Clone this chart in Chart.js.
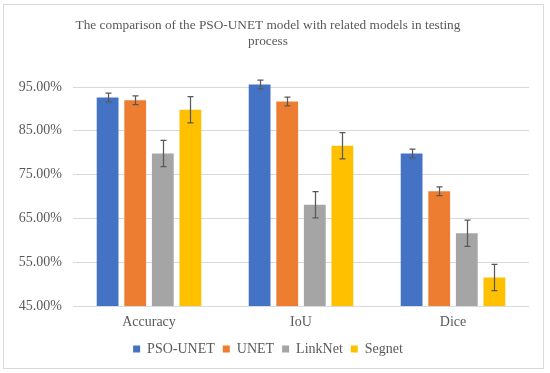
<!DOCTYPE html>
<html>
<head>
<meta charset="utf-8">
<script src="https://cdn.jsdelivr.net/npm/chart.js@4/dist/chart.umd.min.js"></script>
<style>
html,body{margin:0;padding:0;background:#fff;}
#wrap{width:550px;height:373px;position:relative;}
</style>
</head>
<body>
<div id="wrap"><canvas id="c" width="550" height="373"></canvas></div>
<script>
const categories = ["Accuracy", "IoU", "Dice"];
const seriesNames = ["PSO-UNET", "UNET", "LinkNet", "Segnet"];
const psoUnet = [92.6, 95.6, 79.8];
const unet = [92.0, 91.7, 71.2];
const linkNet = [79.8, 68.1, 61.6];
const segnet = [89.8, 81.6, 51.5];
const psoUnetErr = [1.0, 1.0, 1.0];
const unetErr = [1.0, 1.0, 1.0];
const linkNetErr = [3.0, 3.0, 3.0];
const segnetErr = [3.0, 3.0, 3.0];
const yTicks = [45, 55, 65, 75, 85, 95];
const colors = ["#4472C4", "#ED7D31", "#A5A5A5", "#FFC000"];

const values = [psoUnet, unet, linkNet, segnet];
const errors = [psoUnetErr, unetErr, linkNetErr, segnetErr];
const FONT = "'Liberation Serif', 'Times New Roman', serif";
const TEXT = "#595959";

const frame = {
  id: 'frame',
  beforeDraw(chart) {
    const ctx = chart.ctx;
    ctx.save();
    ctx.fillStyle = '#fff';
    ctx.fillRect(0, 0, chart.width, chart.height);
    ctx.strokeStyle = '#D9D9D9';
    ctx.lineWidth = 1;
    ctx.strokeRect(3.5, 4.5, 540, 364);
    ctx.restore();
  }
};

const errorBars = {
  id: 'errorBars',
  afterDatasetsDraw(chart) {
    const ctx = chart.ctx;
    const y = chart.scales.y;
    ctx.save();
    ctx.strokeStyle = '#595959';
    ctx.lineWidth = 1.25;
    chart.data.datasets.forEach((ds, di) => {
      const meta = chart.getDatasetMeta(di);
      meta.data.forEach((bar, i) => {
        const v = ds.data[i], e = errors[di][i];
        const x = Math.round(bar.x) + 0.5;
        const yt = y.getPixelForValue(v + e);
        const yb = y.getPixelForValue(v - e);
        ctx.beginPath();
        ctx.moveTo(x, yt); ctx.lineTo(x, yb);
        ctx.moveTo(x - 3, yt); ctx.lineTo(x + 3, yt);
        ctx.moveTo(x - 3, yb); ctx.lineTo(x + 3, yb);
        ctx.stroke();
      });
    });
    ctx.restore();
  }
};

new Chart(document.getElementById('c'), {
  type: 'bar',
  data: {
    labels: categories,
    datasets: seriesNames.map((n, i) => ({
      label: n,
      data: values[i],
      backgroundColor: colors[i],
      borderWidth: 0,
      categoryPercentage: 0.726,
      barPercentage: 0.79
    }))
  },
  options: {
    responsive: false,
    animation: false,
    layout: { padding: { left: 0, right: 14, top: 0, bottom: 7 } },
    plugins: {
      title: {
        display: true,
        text: ["The comparison of the PSO-UNET model with related models in testing", "process"],
        color: TEXT,
        font: { family: FONT, size: 13.3, weight: 'normal', lineHeight: 1.25 },
        padding: { top: 17, bottom: 28 }
      },
      legend: {
        position: 'bottom',
        labels: {
          color: TEXT,
          font: { family: FONT, size: 14 },
          boxWidth: 7, boxHeight: 7,
          padding: 8
        }
      },
      tooltip: { enabled: false }
    },
    scales: {
      x: {
        afterFit(scale) { scale.height = 28; },
        grid: { display: false, drawTicks: false },
        border: { display: false },
        ticks: { color: TEXT, font: { family: FONT, size: 14 }, padding: 8 }
      },
      y: {
        min: 45, max: 97,
        afterBuildTicks(scale) { scale.ticks = yTicks.map(v => ({ value: v })); },
        afterFit(scale) { scale.width = 73; },
        grid: { color: '#D9D9D9', drawTicks: false, lineWidth: 1 },
        border: { display: false },
        ticks: {
          color: TEXT, font: { family: FONT, size: 14 }, padding: 11,
          callback: v => v.toFixed(2) + '%'
        }
      },
      y2: {
        position: 'right',
        display: true,
        afterFit(scale) { scale.width = 7; },
        grid: { display: false, drawTicks: false },
        border: { display: false },
        ticks: { display: false }
      }
    }
  },
  plugins: [frame, errorBars]
});
</script>
</body>
</html>
